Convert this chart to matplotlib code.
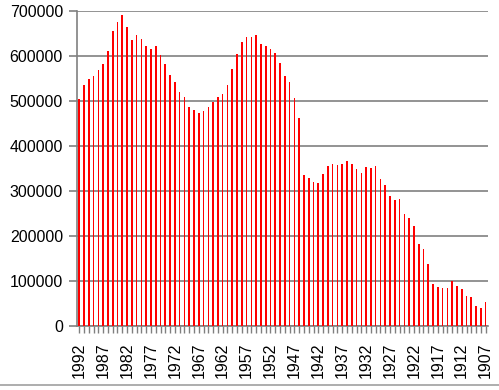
import numpy as np
import matplotlib.pyplot as plt
from matplotlib.lines import Line2D

# years run from 1992 (left) back to 1907 (right)
years = list(range(1992, 1906, -1))
values = [
    505000, 536000, 549000, 556000, 569000, 583000, 612000, 656000, 676000, 692000,  # 1992-1983
    665000, 636000, 647000, 638000, 623000, 616000, 621000, 603000, 583000, 558000,  # 1982-1973
    543000, 521000, 509000, 487000, 480000, 474000, 478000, 487000, 498000, 509000,  # 1972-1963
    516000, 536000, 572000, 605000, 632000, 643000, 641000, 647000, 627000, 623000,  # 1962-1953
    616000, 607000, 585000, 556000, 541000, 507000, 463000, 336000, 329000, 320000,  # 1952-1943
    318000, 338000, 356000, 360000, 358000, 360000, 367000, 360000, 349000, 340000,  # 1942-1933
    354000, 351000, 356000, 327000, 314000, 289000, 280000, 283000, 249000, 240000,  # 1932-1923
    222000, 182000, 171000, 138000, 93000, 87000, 85000, 85000, 100000, 89000,       # 1922-1913
    82000, 67000, 65000, 44000, 40000, 53000,                                        # 1912-1907
]
label_years = [y for y in years if (1992 - y) % 5 == 0]

plt.rcParams['font.family'] = ['Liberation Sans', 'DejaVu Sans']

fig = plt.figure(figsize=(4.99, 3.9), dpi=100)
ax = fig.add_axes([0.154, 0.164, 0.824, 0.808])

x = np.arange(len(years))
ax.bar(x, values, width=0.34, color='#ff0000', zorder=3)

ax.set_xlim(-0.5, len(years) - 0.5)
ax.set_ylim(0, 700000)
ax.set_yticks(range(0, 700001, 100000))
ax.set_yticklabels([str(v) for v in range(0, 700001, 100000)], fontsize=11.5)
ax.yaxis.grid(True, color='#808080', linewidth=1.2, zorder=0)

ax.set_xticks(x, minor=True)
ax.set_xticks([years.index(y) for y in label_years])
ax.set_xticklabels([str(y) for y in label_years], rotation=90, fontsize=11.5)
ax.tick_params(axis='x', which='both', length=5, color='#808080', width=1, pad=7)
ax.tick_params(axis='y', length=6, color='#808080', width=1.2, pad=4)

for side in ['top', 'right']:
    ax.spines[side].set_visible(False)
for side in ['left', 'bottom']:
    ax.spines[side].set_color('#808080')
    ax.spines[side].set_linewidth(1.2)

# thin frame line along the bottom of the picture
fig.add_artist(Line2D([0, 1], [0.013, 0.013], color='#a0a0a0', linewidth=1.2))

fig.savefig('out.png', dpi=100)
